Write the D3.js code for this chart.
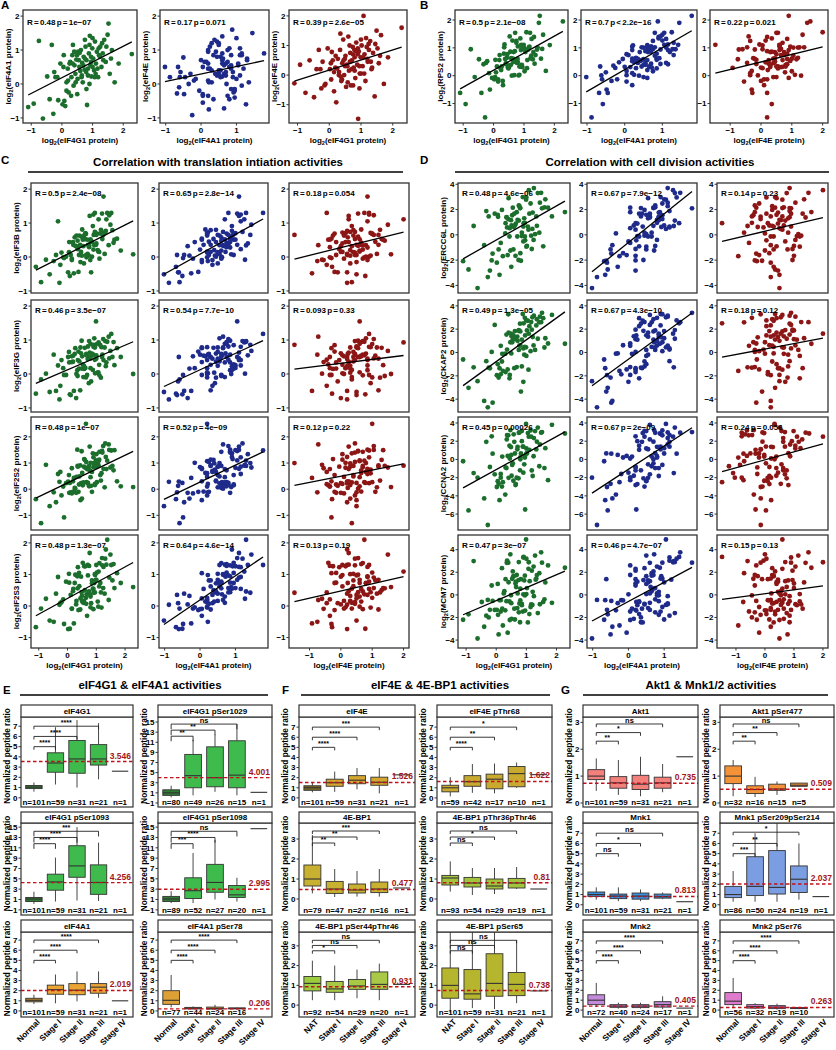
<!DOCTYPE html>
<html><head><meta charset="utf-8">
<script src="https://cdn.jsdelivr.net/npm/d3@7/dist/d3.min.js"></script>
<style>
body{margin:0;background:#fff;}
svg text{font-family:"Liberation Sans",Arial,Helvetica,sans-serif;font-weight:bold;fill:#000;}
</style></head><body>
<svg id="fig" width="836" height="1050"></svg>
<script>
// ================= sample-level log2 protein values (scatter panels) =================
const eIF4G1 = [-1.10,-0.92,-0.75,-0.62,-0.48,-0.33,-0.28,-0.21,-0.12,-0.05,0.02,0.06,0.11,0.15,0.19,0.22,0.27,0.31,0.34,0.38,0.41,0.44,0.47,0.51,0.53,0.57,0.60,0.62,0.66,0.68,0.71,0.74,0.77,0.80,0.82,0.85,0.88,0.91,0.93,0.96,0.99,1.02,1.05,1.08,1.11,1.14,1.18,1.21,1.25,1.29,1.33,1.38,1.43,1.49,1.56,1.63,1.72,1.85,2.28,-0.40,-0.15,0.08,0.25,0.36,0.49,0.64,0.75,0.90,1.00,1.16,1.31,1.52,0.45,0.58,0.79,0.95,1.07,0.30,0.70,1.24,
  0.55,0.85,1.20,0.15,0.40,1.00,0.65,1.35,-0.25,0.90,0.20,1.10,0.75,0.50,1.45,0.05,0.95,0.35,1.60,0.80];
const eIF4A1 = [-0.68,-0.58,1.27,-1.02,0.22,1.15,-0.88,0.20,-0.48,0.60,-0.60,0.85,-0.65,0.05,0.45,-0.25,0.65,0.20,0.85,-0.05,0.55,0.30,0.72,0.15,0.95,0.50,0.38,1.00,0.62,0.05,0.80,0.42,1.10,0.70,-0.62,0.25,0.90,1.42,0.55,0.22,1.05,0.75,0.40,1.25,0.60,0.95,0.20,0.85,1.10,0.50,0.90,1.30,0.65,1.45,0.30,1.00,0.05,0.60,0.88,-0.45,0.20,-0.50,0.60,1.15,0.85,0.20,0.75,0.00,1.35,0.45,1.20,1.78,0.05,0.92,0.35,0.65,0.20,-0.35,0.55,0.80,
  0.70,0.45,1.05,-0.20,0.95,0.50,0.25,0.70,0.35,1.15,0.10,0.30,1.30,-0.30,1.10,0.50,0.80,0.60,0.75,-0.15];
const eIF4E = [-0.28,0.35,-0.60,0.50,-0.75,0.85,0.20,0.45,-0.30,0.90,0.20,-0.15,0.50,-0.55,0.25,-0.92,0.55,0.10,0.85,-0.20,0.40,1.20,0.00,0.65,-0.40,0.30,1.30,0.15,0.75,-0.35,0.50,0.95,0.25,0.60,-0.10,1.10,0.35,-1.48,0.80,0.05,0.60,1.00,0.30,2.00,0.70,-0.20,0.95,0.45,0.85,1.15,0.20,0.75,-0.72,1.50,0.40,1.35,-0.30,0.60,1.60,0.20,-0.35,0.78,0.22,-0.05,0.55,1.00,-0.35,0.70,0.05,1.25,0.45,0.90,0.50,-0.25,0.85,0.30,0.60,0.00,0.20,1.05,
  0.35,0.80,0.55,0.10,-0.15,1.20,0.45,0.25,-0.45,0.90,0.65,0.05,0.70,0.30,1.05,0.40,-0.45,1.40,0.65,0.15];
const eIF4E_setA2 = [-0.28,0.35,-0.60,0.50,-0.75,0.85,0.20,0.45,-0.30,0.90,0.20,-0.15,0.50,-0.55,0.25,-0.92,0.55,0.10,0.85,-0.20,0.40,1.20,0.00,0.65,-0.40,0.30,1.30,0.15,0.75,-0.35,0.50,0.95,0.25,0.60,-0.10,1.10,0.35,null,0.80,0.05,0.60,1.00,0.30,null,0.70,-0.20,0.95,0.45,0.85,1.15,0.20,0.75,-0.72,1.50,0.40,1.35,-0.30,0.60,1.60,0.20,-0.35,0.78,0.22,-0.05,0.55,1.00,-0.35,0.70,0.05,1.25,0.45,0.90,0.50,-0.25,0.85,0.30,0.60,0.00,0.20,1.05,
  0.35,0.80,0.55,0.10,-0.15,1.20,0.45,0.25,-0.45,0.90,0.65,0.05,0.70,0.30,1.05,0.40,-0.45,1.40,0.65,0.15];
const RPS2 = [-0.62,-1.02,0.95,-0.05,0.59,0.41,-1.50,0.52,-0.50,-0.08,-0.13,0.57,0.33,-0.21,0.56,0.28,0.33,-0.34,0.79,0.60,0.45,0.64,0.29,0.31,1.41,0.39,0.00,1.26,0.85,0.02,1.54,0.53,0.46,1.05,0.01,0.03,1.34,1.11,0.39,1.09,1.11,0.16,0.85,1.56,0.56,0.94,1.04,0.62,1.32,0.59,1.39,0.74,0.94,1.90,0.61,1.47,0.17,1.10,1.95,-0.62,0.09,0.12,0.20,1.12,0.26,0.61,1.25,0.32,0.95,1.02,0.85,2.15,0.77,0.63,0.60,0.31,0.92,-0.19,0.88,0.72,
  0.86,0.33,1.54,-0.13,0.42,1.01,0.49,0.43,0.46,0.92,0.74,0.27,1.18,0.36,1.01,-0.05,1.02,1.02,0.96,0.48];
const eIF3B = [-0.29,-0.74,-0.08,-0.51,-0.12,1.05,-0.76,0.13,-0.03,0.01,-0.45,0.44,0.06,-0.09,0.44,-0.48,0.33,0.63,0.28,-0.44,0.63,0.36,0.15,0.81,0.51,-0.19,0.53,0.70,-0.01,0.51,0.36,0.04,1.21,0.52,-0.45,0.45,0.91,0.65,0.35,0.72,0.36,0.69,0.20,1.11,-0.05,0.69,0.71,0.53,1.78,0.09,0.77,1.30,0.35,0.95,0.79,0.51,0.54,0.19,0.08,0.06,-0.01,-0.56,0.58,0.23,0.60,0.68,0.29,0.22,0.40,0.80,0.74,1.30,-0.15,0.63,-0.09,0.74,0.16,0.32,0.09,0.65,
  0.32,0.01,1.28,-0.05,0.06,0.65,0.06,1.11,-0.23,1.25,0.36,0.15,0.34,0.04,1.23,0.14,1.30,0.48,0.42,0.44];
const eIF3G = [-0.58,-0.16,0.01,-0.53,0.57,0.25,-0.75,0.41,-0.03,-0.03,0.50,0.34,-0.62,0.35,0.36,-0.50,0.76,0.00,0.11,0.66,0.37,-0.48,0.61,0.52,0.28,0.24,0.77,0.18,0.55,-0.03,0.81,-0.27,0.63,0.89,-0.22,0.54,0.12,0.86,1.05,0.02,1.55,0.88,0.04,0.93,-0.04,0.85,0.79,0.57,0.41,0.78,0.23,0.95,1.10,0.68,0.50,0.26,0.76,0.50,0.00,-0.50,0.17,-0.60,0.59,0.41,0.98,-0.10,0.50,0.57,0.55,-0.11,0.97,1.18,0.78,0.15,0.45,0.78,0.05,-0.71,0.44,1.03,
  -0.09,0.60,0.50,0.52,0.16,0.45,0.59,0.34,-0.35,0.80,0.54,0.27,0.97,0.16,0.46,0.65,0.42,-0.06,0.94,0.17];
const eIF2S2 = [-0.38,-1.30,0.93,-0.65,-0.12,0.58,0.28,-0.24,-1.08,0.23,0.29,-0.14,-0.12,0.80,0.30,0.43,0.02,0.47,1.51,-0.10,0.49,0.91,0.23,0.62,0.15,0.86,1.12,0.82,0.27,0.77,0.24,0.75,1.63,0.46,0.13,-0.10,1.37,1.00,1.00,0.20,1.10,0.27,0.99,0.90,1.43,0.54,0.61,1.40,0.78,0.07,1.23,1.09,1.71,0.83,0.89,1.49,0.30,0.11,0.08,-0.50,0.10,0.24,0.05,0.86,1.45,2.50,0.11,0.84,1.34,0.33,1.75,1.48,-0.42,1.15,0.70,0.16,1.07,-0.14,0.22,1.65,
  0.26,0.66,1.46,-0.16,0.18,0.86,1.04,0.77,0.66,1.22,-0.09,1.13,0.89,-0.36,1.50,0.54,0.19,0.89,0.72,1.01];
const eIF2S3 = [-0.67,-0.08,0.23,-0.46,-0.50,0.92,0.04,0.12,-0.57,0.77,-0.73,0.74,0.35,-0.09,0.47,-0.55,0.99,0.16,0.94,-0.13,0.63,-0.11,0.93,0.14,1.37,0.16,0.50,1.26,0.37,-0.31,0.97,0.44,1.68,0.30,0.09,0.81,0.55,0.42,0.73,0.98,0.83,1.06,0.14,1.09,1.36,0.73,-0.05,1.29,1.24,0.39,1.79,2.10,0.19,1.63,0.81,0.57,1.04,0.73,0.60,0.39,0.21,-0.72,0.73,1.23,0.44,0.26,1.27,-0.10,1.30,0.43,1.50,1.30,0.24,1.26,0.35,1.01,-0.02,0.05,1.30,0.57,
  0.10,0.72,1.52,-0.08,1.05,0.83,0.07,1.31,0.09,0.54,0.54,0.62,0.46,0.32,0.90,1.02,0.43,0.56,1.33,-0.04];
const ERCC6L = [-2.08,-2.74,0.70,-4.21,null,1.88,-3.34,-2.83,-1.48,1.67,-2.20,1.43,-3.16,-0.64,1.97,-1.69,null,0.92,1.40,-1.60,2.90,-0.13,-1.24,0.74,1.55,-1.15,1.67,0.74,null,1.79,1.19,-1.99,2.27,2.12,-2.05,-0.10,2.99,0.92,1.31,-0.43,2.78,-0.88,0.65,3.53,null,2.48,-1.12,1.76,3.70,0.05,1.46,3.30,0.17,3.32,-0.91,2.81,2.15,1.46,1.80,-0.82,-2.02,-1.15,null,0.59,1.16,-1.66,2.33,-0.52,2.96,-0.07,null,2.10,0.53,0.62,2.12,-0.13,0.41,0.11,-0.13,-0.40,
  2.15,0.17,0.47,null,1.25,-0.94,0.89,0.71,1.46,0.65,null,1.67,1.13,-2.53,2.54,1.58,0.95,1.37,2.18,-1.45];
const CKAP2 = [-0.60,-3.03,-1.27,-2.46,null,-0.74,-4.70,-1.35,-4.30,2.36,-1.94,null,-1.35,0.57,-0.77,-1.58,null,-1.68,1.54,-1.45,1.70,-2.21,0.88,1.39,0.88,1.47,-1.34,1.84,null,-1.25,1.00,1.86,0.59,1.81,-3.35,1.10,3.30,2.50,-0.19,1.46,0.44,1.89,2.72,1.61,null,0.11,1.96,1.33,3.16,0.22,2.32,1.18,2.59,2.60,2.94,1.22,0.77,3.22,0.75,-4.15,0.05,-2.15,null,0.25,1.61,1.14,0.22,-2.51,2.75,2.61,null,3.40,-1.92,1.30,2.47,0.48,-1.47,-0.10,1.36,0.61,
  1.11,-1.19,3.02,-1.87,3.28,-0.29,null,2.85,-1.30,0.35,-0.11,2.26,1.92,-0.08,3.07,-1.00,2.97,null,0.43,0.62];
const CCNA2 = [-0.20,-5.60,-1.50,-2.00,null,1.93,-7.20,-0.83,0.63,-1.64,-3.03,null,-4.47,-2.00,-2.98,-2.50,null,-0.88,-0.95,0.38,-2.02,1.50,3.22,-1.79,-0.60,-2.34,1.93,0.65,null,-2.01,1.39,-2.07,2.97,0.01,0.66,2.00,1.41,null,-0.54,-5.50,3.90,0.68,2.90,2.50,null,3.19,-1.21,-1.82,2.35,3.11,1.10,3.50,-0.75,2.94,null,1.24,-2.28,3.80,2.85,-4.28,2.54,-2.68,null,2.67,1.36,-2.82,2.93,-1.45,0.63,2.50,null,3.00,0.10,2.76,-1.20,0.32,null,-3.86,1.12,0.35,
  -0.43,3.12,null,-1.60,2.65,1.20,-2.71,1.95,null,1.40,0.31,1.06,null,0.50,1.64,-2.39,0.20,2.20,-0.95,0.21];
const MCM7 = [-2.20,-1.72,2.99,-3.86,-0.63,-1.84,-0.45,-1.32,-0.53,-1.33,-1.32,-1.76,-0.47,-1.47,2.36,-2.71,0.32,1.39,-0.56,-3.34,1.12,-0.58,3.59,-2.12,1.43,1.65,-1.22,-2.18,0.70,1.76,0.13,1.31,-0.76,0.56,1.39,-0.91,-1.48,3.36,1.28,-1.39,4.90,0.60,-2.44,2.89,1.21,-1.07,2.14,0.27,-0.11,3.48,1.44,-1.61,1.92,3.77,-0.62,1.10,2.61,-0.70,2.40,-2.82,0.83,-3.50,0.13,3.03,-0.03,1.01,-1.54,0.05,3.20,-0.84,1.35,2.85,-2.22,1.66,-2.42,1.70,2.31,-1.37,-1.17,2.51,
  2.08,-0.79,-0.89,-0.47,2.85,0.07,1.17,1.75,-1.99,3.31,-1.22,-1.70,2.90,-0.73,-0.83,0.97,-0.05,2.84,-0.39,-0.49];

// correlation labels
const corA = ["R = 0.48 p = 1e\u221207","R = 0.17 p = 0.071","R = 0.39 p = 2.6e\u221205"];
const corB = ["R = 0.5 p = 2.1e\u221208","R = 0.7 p < 2.2e\u221216","R = 0.22 p = 0.021"];
const corC = [["R = 0.5 p = 2.4e\u221208","R = 0.65 p = 2.8e\u221214","R = 0.18 p = 0.054"],
              ["R = 0.46 p = 3.5e\u221207","R = 0.54 p = 7.7e\u221210","R = 0.093 p = 0.33"],
              ["R = 0.48 p = 1e\u221207","R = 0.52 p = 4e\u221209","R = 0.12 p = 0.22"],
              ["R = 0.48 p = 1.3e\u221207","R = 0.64 p = 4.6e\u221214","R = 0.13 p = 0.19"]];
const corD = [["R = 0.48 p = 4.6e\u221206","R = 0.67 p = 7.9e\u221212","R = 0.14 p = 0.23"],
              ["R = 0.49 p = 1.3e\u221205","R = 0.67 p = 4.3e\u221210","R = 0.18 p = 0.12"],
              ["R = 0.45 p = 0.00026","R = 0.67 p = 2e\u221209","R = 0.24 p = 0.056"],
              ["R = 0.47 p = 3e\u221207","R = 0.46 p = 4.7e\u221207","R = 0.15 p = 0.13"]];
const ticksSmall = [-1,0,1,2];
const ticksLarge = [-6,-4,-2,0,2,4];

// ================= box-plot panels (E, F, G) =================
const groupsN = ["Normal","Stage I","Stage II","Stage III","Stage IV"];
const groupsNAT = ["NAT","Stage I","Stage II","Stage III","Stage IV"];
const ticks0to7 = [0,1,2,3,4,5,6,7];
const ticksOdd = [-1,1,3,5,7,9,11,13,15];
const ticks0to3 = [0,1,2,3];
// [lower whisker, Q1, median, Q3, upper whisker] for Normal, Stage I, II, III; stage IV single value
const box_eIF4G1 = [[0.6,0.9,1.05,1.2,1.5],[1.3,2.5,3.4,4.4,6.9],[1.0,2.4,3.8,5.6,7.6],[1.8,3.2,3.8,5.2,7.3]];
const iv_eIF4G1 = 2.6, n_eIF4G1 = [101,59,31,21,1], ref_eIF4G1 = 3.546;
const sig_eIF4G1 = [[0,1,5,"****"],[0,2,6,"****"],[0,3,7,"****"]];
const box_pS1029 = [[0.1,0.5,1.0,1.6,2.4],[0.5,2.0,4.4,8.6,11.5],[1.2,2.2,4.0,10.1,12.5],[0.5,2.0,4.5,11.3,14.6]];
const iv_pS1029 = 1.1, n_pS1029 = [80,49,26,15,1], ref_pS1029 = 4.001;
const sig_pS1029 = [[0,1,12.2,"**"],[0,2,13.4,"**"],[0,3,14.6,"ns"]];
const box_pS1093 = [[0.15,0.6,1.1,1.4,2.5],[0.6,2.8,4.4,5.9,9.1],[0.8,5.3,7.5,11.4,15.0],[0.7,2.0,4.3,7.7,12.0]];
const iv_pS1093 = null, n_pS1093 = [101,59,31,21,1], ref_pS1093 = 4.256;
const sig_pS1093 = [[0,1,11.8,"****"],[0,2,13.0,"****"],[0,3,14.2,"***"]];
const box_pS1098 = [[0.3,0.6,1.1,1.6,2.6],[0.3,1.2,2.7,5.2,10.0],[1.0,2.4,4.3,7.8,12.5],[0.6,1.4,1.9,3.7,5.2]];
const iv_pS1098 = 14.7, n_pS1098 = [89,52,27,20,1], ref_pS1098 = 2.995;
const sig_pS1098 = [[0,1,11.8,"***"],[0,2,13.0,"****"],[0,3,14.2,"ns"]];
const box_eIF4A1 = [[0.68,0.9,1.05,1.25,1.6],[0.75,1.65,2.1,2.55,3.6],[0.95,1.6,2.05,2.7,3.9],[1.3,1.75,2.35,2.7,3.9]];
const iv_eIF4A1 = 1.0, n_eIF4A1 = [101,59,31,21,1], ref_eIF4A1 = 2.019;
const sig_eIF4A1 = [[0,1,5,"****"],[0,2,6,"****"],[0,3,7,"****"]];
const box_pS78 = [[0.35,0.65,1.05,2.0,3.55],[0.15,0.2,0.27,0.35,0.45],[0.1,0.18,0.25,0.38,0.6],[0.15,0.2,0.25,0.3,0.35]];
const iv_pS78 = null, n_pS78 = [77,44,24,16], ref_pS78 = 0.206;
const sig_pS78 = [[0,1,5,"****"],[0,2,6,"****"],[0,3,7,"****"]];

const box_eIF4E = [[0.55,0.75,1.0,1.2,1.5],[0.6,1.15,1.5,1.85,2.6],[0.85,1.4,1.75,2.2,2.95],[0.45,1.25,1.55,2.05,2.95]];
const iv_eIF4E = 2.28, n_eIF4E = [101,59,31,21,1], ref_eIF4E = 1.526;
const sig_eIF4E = [[0,1,5,"****"],[0,2,6,"****"],[0,3,7,"***"]];
const box_pT68 = [[0.15,0.6,1.0,1.25,2.05],[0.5,1.15,1.6,2.2,3.35],[0.45,0.9,1.85,2.35,3.4],[1.0,1.1,2.4,3.1,3.5]];
const iv_pT68 = 2.3, n_pT68 = [59,42,17,10,1], ref_pT68 = 1.622;
const sig_pT68 = [[0,1,5,"****"],[0,2,6,"**"],[0,3,7,"*"]];
const box_BP1 = [[0.28,0.65,1.0,1.7,3.2],[0.1,0.28,0.5,0.88,1.5],[0.12,0.3,0.45,0.75,1.4],[0.12,0.32,0.5,0.85,1.5]];
const iv_BP1 = 0.55, n_BP1 = [79,47,27,16,1], ref_BP1 = 0.477;
const sig_BP1 = [[0,1,2.8,"**"],[0,2,3.1,"**"],[0,3,3.4,"***"]];
const box_pT36 = [[0.37,0.7,1.05,1.18,1.88],[0.2,0.6,0.8,1.08,1.55],[0.25,0.5,0.65,1.0,1.55],[0.5,0.55,0.8,1.03,1.6]];
const iv_pT36 = 0.5, n_pT36 = [93,54,29,19,1], ref_pT36 = 0.81;
const sig_pT36 = [[0,1,2.8,"ns"],[0,2,3.1,"*"],[0,3,3.4,"ns"]];
const box_pS44 = [[0.25,0.72,1.1,1.45,2.25],[0.25,0.65,0.82,1.2,2.0],[0.35,0.8,0.97,1.3,1.8],[0.25,0.8,1.05,1.68,2.1]];
const iv_pS44 = 1.05, n_pS44 = [92,54,29,20,1], ref_pS44 = 0.931;
const sig_pS44 = [[0,1,2.75,"*"],[0,2,3.02,"ns"],[0,3,3.28,"ns"]];
const box_pS65 = [[-0.4,0.35,1.0,1.88,4.2],[-0.15,0.3,0.57,1.8,4.2],[-0.2,0.45,1.1,2.6,4.2],[0.1,0.48,1.05,1.65,3.3]];
const iv_pS65 = 0.72, n_pS65 = [101,59,31,21,1], ref_pS65 = 0.738;
const sig_pS65 = [[0,1,2.75,"ns"],[0,2,3.02,"ns"],[0,3,3.28,"ns"]];

const box_Akt1 = [[0.45,0.87,1.0,1.24,1.66],[0.3,0.55,0.75,0.98,1.6],[0.25,0.5,0.7,1.03,1.72],[0.4,0.55,0.75,0.96,1.45]];
const iv_Akt1 = 1.72, n_Akt1 = [101,59,31,21,1], ref_Akt1 = 0.735;
const sig_Akt1 = [[0,1,2.3,"**"],[0,2,2.62,"*"],[0,3,2.94,"ns"]];
const box_pS477 = [[0.25,0.72,1.0,1.38,1.6],[0.22,0.35,0.5,0.64,0.97],[0.3,0.47,0.52,0.7,0.8],[0.6,0.62,0.66,0.74,0.74]];
const iv_pS477 = null, n_pS477 = [32,16,15,5], ref_pS477 = 0.509;
const sig_pS477 = [[0,1,2.3,"**"],[0,2,2.62,"**"],[0,3,2.94,"ns"]];
const box_Mnk1 = [[0.5,0.82,1.0,1.25,1.7],[0.35,0.6,0.85,1.05,1.7],[0.35,0.55,0.85,1.15,1.5],[0.55,0.65,0.8,1.05,1.2]];
const iv_Mnk1 = 0.3, n_Mnk1 = [101,59,31,21,1], ref_Mnk1 = 0.813;
const sig_Mnk1 = [[0,1,5,"ns"],[0,2,6,"*"],[0,3,7,"ns"]];
const box_pS209 = [[0.3,0.7,1.0,1.8,3.3],[0.3,0.9,1.8,4.7,7.0],[0.3,1.05,1.7,5.3,8.5],[0.5,1.2,2.5,3.8,6.0]];
const iv_pS209 = 0.8, n_pS209 = [86,50,24,19,1], ref_pS209 = 2.037;
const sig_pS209 = [[0,1,5,"***"],[0,2,6,"**"],[0,3,7.1,"*"]];
const box_Mnk2 = [[0.3,0.55,1.0,1.55,2.75],[0.15,0.28,0.4,0.55,0.75],[0.15,0.25,0.4,0.55,0.75],[0.1,0.3,0.55,0.85,1.4]];
const iv_Mnk2 = 0.2, n_Mnk2 = [72,40,24,17,1], ref_Mnk2 = 0.405;
const sig_Mnk2 = [[0,1,5,"****"],[0,2,6,"****"],[0,3,7,"****"]];
const box_pS76 = [[0.2,0.55,0.9,1.77,3.25],[0.1,0.2,0.35,0.55,0.7],[0.05,0.15,0.3,0.45,0.65],[0.1,0.15,0.2,0.25,0.3]];
const iv_pS76 = null, n_pS76 = [56,32,19,10], ref_pS76 = 0.263;
const sig_pS76 = [[0,1,5,"****"],[0,2,6,"****"],[0,3,7,"****"]];

// ================= drawing =================
const svg = d3.select("#fig");
svg.append("rect").attr("width",836).attr("height",1050).attr("fill","#fff");
let clipN = 0;
const COL = {g:"#1c6e2c", b:"#1f2b8a", r:"#8c1616"};
const fmt = d => d < 0 ? "\u2212" + Math.abs(d) : String(d);

function logTitle(t, name){
  t.append("tspan").text("log");
  t.append("tspan").attr("font-size",5.6).attr("dy",2).text("2");
  t.append("tspan").attr("dy",-2).text("(" + name + " protein)");
}

function scatter(s){
  const [x0,y0,x1,y1] = s.box;
  const g = svg.append("g");
  const pts = [];
  s.xs.forEach((v,i)=>{ const w = s.ys[i]; if(v!=null && w!=null) pts.push([v,w]); });
  const ex = d3.extent(pts, p=>p[0]); const pad = (ex[1]-ex[0])*0.05;
  const x = d3.scaleLinear().domain([ex[0]-pad, ex[1]+pad]).range([x0,x1]);
  const y = d3.scaleLinear().domain(s.yDom).range([y1,y0]);
  const id = "sc" + (clipN++);
  svg.append("clipPath").attr("id",id).append("rect").attr("x",x0).attr("y",y0).attr("width",x1-x0).attr("height",y1-y0);
  const inner = g.append("g").attr("clip-path",`url(#${id})`);
  inner.selectAll("circle").data(pts).join("circle")
    .attr("cx",p=>x(p[0])).attr("cy",p=>y(p[1])).attr("r",2.4).attr("fill",COL[s.c]);
  const mx = d3.mean(pts,p=>p[0]), my = d3.mean(pts,p=>p[1]);
  const b = d3.sum(pts,p=>(p[0]-mx)*(p[1]-my)) / d3.sum(pts,p=>(p[0]-mx)**2);
  const a = my - b*mx;
  inner.append("line").attr("x1",x(ex[0])).attr("y1",y(a+b*ex[0])).attr("x2",x(ex[1])).attr("y2",y(a+b*ex[1]))
    .attr("stroke","#000").attr("stroke-width",1.3);
  g.append("rect").attr("x",x0).attr("y",y0).attr("width",x1-x0).attr("height",y1-y0)
    .attr("fill","none").attr("stroke","#333").attr("stroke-width",1.3);
  g.append("text").attr("x",x0+4).attr("y",y0+(s.labOff||13)).attr("font-size",8).attr("word-spacing",-1).text(s.cor);
  s.yTicks.filter(t=>t>=s.yDom[0] && t<=s.yDom[1]).forEach(t=>{
    g.append("line").attr("x1",x0-2.5).attr("x2",x0).attr("y1",y(t)).attr("y2",y(t)).attr("stroke","#333");
    g.append("text").attr("x",x0-3.5).attr("y",y(t)).attr("dy","0.35em").attr("text-anchor","end").attr("font-size",8).text(fmt(t));
  });
  if(s.xT){
    s.xTicks.filter(t=>t>=x.domain()[0] && t<=x.domain()[1]).forEach(t=>{
      g.append("line").attr("x1",x(t)).attr("x2",x(t)).attr("y1",y1).attr("y2",y1+2.5).attr("stroke","#333");
      g.append("text").attr("x",x(t)).attr("y",y1+10).attr("text-anchor","middle").attr("font-size",8).text(fmt(t));
    });
    logTitle(g.append("text").attr("x",(x0+x1)/2).attr("y",y1+20).attr("text-anchor","middle").attr("font-size",8), s.xT);
  }
  if(s.yT){
    logTitle(g.append("text").attr("transform",`translate(${x0-15},${(y0+y1)/2}) rotate(-90)`)
      .attr("text-anchor","middle").attr("dy","0.35em").attr("font-size",8), s.yT);
  }
}

// A and B
const boxA = [[23,10,137,123],[160,10,269,123],[289,10,407,123]];
const boxB = [[455,10,568,123],[581,10,697,123],[710,10,828,123]];
scatter({box:boxA[0], xs:eIF4G1, ys:eIF4A1, c:"g", cor:corA[0], yDom:[-1.15,2.18], yTicks:ticksSmall, xTicks:ticksSmall, xT:"eIF4G1", yT:"eIF4A1", labOff:15});
scatter({box:boxA[1], xs:eIF4A1, ys:eIF4E_setA2, c:"b", cor:corA[1], yDom:[-1.15,2.18], yTicks:ticksSmall, xTicks:ticksSmall, xT:"eIF4A1", yT:"eIF4E", labOff:15});
scatter({box:boxA[2], xs:eIF4G1, ys:eIF4E, c:"r", cor:corA[2], yDom:[-1.62,2.2], yTicks:ticksSmall, xTicks:ticksSmall, xT:"eIF4G1", yT:"eIF4E", labOff:15});
scatter({box:boxB[0], xs:eIF4G1, ys:RPS2, c:"g", cor:corB[0], yDom:[-1.7,2.36], yTicks:ticksSmall, xTicks:ticksSmall, xT:"eIF4G1", yT:"RPS2", labOff:15});
scatter({box:boxB[1], xs:eIF4A1, ys:RPS2, c:"b", cor:corB[1], yDom:[-1.7,2.36], yTicks:ticksSmall, xTicks:ticksSmall, xT:"eIF4A1", labOff:15});
scatter({box:boxB[2], xs:eIF4E, ys:RPS2, c:"r", cor:corB[2], yDom:[-1.7,2.36], yTicks:ticksSmall, xTicks:ticksSmall, xT:"eIF4E", labOff:15});

// C and D grids
const gridRows = [[183,293],[300,412],[417,530],[535,648]];
const colsC = [[31,138],[159,268],[289,409]];
const colsD = [[458,570],[587,697],[717,828]];
const xSets = [eIF4G1, eIF4A1, eIF4E];
const xNames = ["eIF4G1","eIF4A1","eIF4E"];
const colorKeys = ["g","b","r"];
const rowsC = [eIF3B, eIF3G, eIF2S2, eIF2S3], namesC = ["eIF3B","eIF3G","eIF2S2","eIF2S3"];
const rowsD = [ERCC6L, CKAP2, CCNA2, MCM7], namesD = ["ERCC6L","CKAP2","CCNA2","MCM7"];
const yDomC = [[-1.06,2.18],[-1.12,2.18],[-1.56,2.76],[-1.33,2.25]];
const yDomD = [[-4.6,4.1],[-5.1,4.5],[-7.75,4.66],[-4.7,5.3]];
for(let r=0;r<4;r++){
  for(let c=0;c<3;c++){
    scatter({box:[colsC[c][0],gridRows[r][0],colsC[c][1],gridRows[r][1]], xs:xSets[c], ys:rowsC[r], c:colorKeys[c],
      cor:corC[r][c], yDom:yDomC[r], yTicks:ticksSmall, xTicks:ticksSmall, xT: r===3 ? xNames[c] : null, yT: c===0 ? namesC[r] : null});
    scatter({box:[colsD[c][0],gridRows[r][0],colsD[c][1],gridRows[r][1]], xs:xSets[c], ys:rowsD[r], c:colorKeys[c],
      cor:corD[r][c], yDom:yDomD[r], yTicks:ticksLarge, xTicks:ticksSmall, xT: r===3 ? xNames[c] : null, yT: c===0 ? namesD[r] : null});
  }
}

// box plots
function boxplot(p){
  const [x0,x1] = p.xr, [sTop,pTop,pBot] = p.yr;
  const g = svg.append("g");
  const y = d3.scaleLinear().domain(p.yDom).range([pBot,pTop]);
  const x = d3.scalePoint().domain(d3.range(5)).range([x0,x1]).padding(0.6);
  const bw = x.step()*0.76;
  const id = "bp" + (clipN++);
  svg.append("clipPath").attr("id",id).append("rect").attr("x",x0).attr("y",pTop).attr("width",x1-x0).attr("height",pBot-pTop);
  const inner = g.append("g").attr("clip-path",`url(#${id})`);
  p.box.forEach((b,i)=>{
    const cx = x(i);
    const fill = i===0 ? p.colors[0] : p.colors[1];
    inner.append("line").attr("x1",cx).attr("x2",cx).attr("y1",y(b[0])).attr("y2",y(b[1])).attr("stroke","#333").attr("stroke-width",0.9);
    inner.append("line").attr("x1",cx).attr("x2",cx).attr("y1",y(b[3])).attr("y2",y(b[4])).attr("stroke","#333").attr("stroke-width",0.9);
    inner.append("rect").attr("x",cx-bw/2).attr("width",bw).attr("y",y(b[3])).attr("height",Math.max(0.8,y(b[1])-y(b[3])))
      .attr("fill",fill).attr("stroke","#333").attr("stroke-width",0.9);
    inner.append("line").attr("x1",cx-bw/2).attr("x2",cx+bw/2).attr("y1",y(b[2])).attr("y2",y(b[2])).attr("stroke","#333").attr("stroke-width",1.1);
  });
  if(p.iv!=null){
    inner.append("line").attr("x1",x(4)-bw/2).attr("x2",x(4)+bw/2).attr("y1",y(p.iv)).attr("y2",y(p.iv)).attr("stroke","#333").attr("stroke-width",1.1);
  }
  inner.append("line").attr("x1",x0).attr("x2",x1).attr("y1",y(p.ref)).attr("y2",y(p.ref))
    .attr("stroke","#c0121c").attr("stroke-width",1.4).attr("stroke-dasharray","3.5,2.5");
  g.append("text").attr("x",x1-2).attr("y",y(p.ref)-3).attr("text-anchor","end").attr("font-size",8.5)
    .style("fill","#a3161c").text(String(p.ref));
  p.sig.forEach(s=>{
    const xa = x(s[0]), xb = x(s[1]), yy = y(s[2]), yt = y(s[2]-p.tip);
    inner.append("path").attr("d",`M${xa},${yt}L${xa},${yy}L${xb},${yy}L${xb},${yt}`).attr("fill","none").attr("stroke","#222").attr("stroke-width",0.9);
    inner.append("text").attr("x",(xa+xb)/2).attr("y",yy-1.2).attr("text-anchor","middle").attr("font-size",s[3]==="ns"?7.5:7).text(s[3]);
  });
  p.n.forEach((v,i)=>{
    g.append("text").attr("x",x(i)).attr("y",pBot-2.5).attr("text-anchor","middle").attr("font-size",8).text("n=" + v);
  });
  g.append("rect").attr("x",x0).attr("y",pTop).attr("width",x1-x0).attr("height",pBot-pTop).attr("fill","none").attr("stroke","#333").attr("stroke-width",1.2);
  g.append("rect").attr("x",x0).attr("y",sTop).attr("width",x1-x0).attr("height",pTop-sTop).attr("fill","#fff").attr("stroke","#333").attr("stroke-width",1.2);
  g.append("text").attr("x",(x0+x1)/2).attr("y",pTop-3).attr("text-anchor","middle").attr("font-size",8).text(p.title);
  p.ticks.filter(t=>t>=p.yDom[0] && t<=p.yDom[1]).forEach(t=>{
    g.append("line").attr("x1",x0-2.5).attr("x2",x0).attr("y1",y(t)).attr("y2",y(t)).attr("stroke","#333");
    g.append("text").attr("x",x0-3.5).attr("y",y(t)).attr("dy","0.35em").attr("text-anchor","end").attr("font-size",8).text(fmt(t));
  });
  g.append("text").attr("transform",`translate(${x0-14},${(sTop+pBot)/2}) rotate(-90)`).attr("text-anchor","middle")
    .attr("dy","0.35em").attr("font-size",8.2).text("Normalized peptide ratio");
  if(p.xlab){
    p.xlab.forEach((lab,i)=>{
      g.append("text").attr("transform",`translate(${x(i)+3},${pBot+2}) rotate(-45)`).attr("text-anchor","end")
        .attr("dy","0.6em").attr("font-size",8.3).text(lab);
    });
  }
}
const colE = [[21,133],[158,272]], colF = [[299,415],[437,552]], colG = [[583,698],[720,834]];
const rowBP = [[705,717,807],[812,823,915],[920,932,1017]];
const bp = (col,row,title,box,iv,n,ref,sig,yDom,ticks,tip,colors,xlab)=>boxplot({xr:col,yr:row,title,box,iv,n,ref,sig,yDom,ticks,tip,colors,xlab});
bp(colE[0],rowBP[0],"eIF4G1",box_eIF4G1,iv_eIF4G1,n_eIF4G1,ref_eIF4G1,sig_eIF4G1,[-0.9,7.9],ticks0to7,0.3,["#2f7a33","#3fbb4d"]);
bp(colE[1],rowBP[0],"eIF4G1 pSer1029",box_pS1029,iv_pS1029,n_pS1029,ref_pS1029,sig_pS1029,[-1.8,16],ticksOdd,1.0,["#2f7a33","#3fbb4d"]);
bp(colE[0],rowBP[1],"eIF4G1 pSer1093",box_pS1093,iv_pS1093,n_pS1093,ref_pS1093,sig_pS1093,[-2,15.8],ticksOdd,1.0,["#2f7a33","#3fbb4d"]);
bp(colE[1],rowBP[1],"eIF4G1 pSer1098",box_pS1098,iv_pS1098,n_pS1098,ref_pS1098,sig_pS1098,[-2,15.8],ticksOdd,1.0,["#2f7a33","#3fbb4d"]);
bp(colE[0],rowBP[2],"eIF4A1",box_eIF4A1,iv_eIF4A1,n_eIF4A1,ref_eIF4A1,sig_eIF4A1,[-0.6,7.8],ticks0to7,0.3,["#b9852a","#eba534"],groupsN);
bp(colE[1],rowBP[2],"eIF4A1 pSer78",box_pS78,iv_pS78,n_pS78,ref_pS78,sig_pS78,[-0.6,7.8],ticks0to7,0.3,["#dca035","#dca035"],groupsN);
bp(colF[0],rowBP[0],"eIF4E",box_eIF4E,iv_eIF4E,n_eIF4E,ref_eIF4E,sig_eIF4E,[-0.9,8.0],ticks0to7,0.3,["#7c6a22","#d4a62e"]);
bp(colF[1],rowBP[0],"eIF4E pThr68",box_pT68,iv_pT68,n_pT68,ref_pT68,sig_pT68,[-0.9,8.0],ticks0to7,0.3,["#c9aa2e","#c9aa2e"]);
bp(colF[0],rowBP[1],"4E-BP1",box_BP1,iv_BP1,n_BP1,ref_BP1,sig_BP1,[-0.8,3.8],ticks0to3,0.15,["#c8b030","#c8b030"]);
bp(colF[1],rowBP[1],"4E-BP1 pThr36pThr46",box_pT36,iv_pT36,n_pT36,ref_pT36,sig_pT36,[-0.8,3.8],ticks0to3,0.15,["#a2c43c","#a2c43c"]);
bp(colF[0],rowBP[2],"4E-BP1 pSer44pThr46",box_pS44,iv_pS44,n_pS44,ref_pS44,sig_pS44,[-0.6,3.7],ticks0to3,0.15,["#9ccb3e","#a8c846"],groupsNAT);
bp(colF[1],rowBP[2],"4E-BP1 pSer65",box_pS65,iv_pS65,n_pS65,ref_pS65,sig_pS65,[-0.6,3.7],ticks0to3,0.15,["#b6b52e","#b6b52e"],groupsNAT);
bp(colG[0],rowBP[0],"Akt1",box_Akt1,iv_Akt1,n_Akt1,ref_Akt1,sig_Akt1,[-0.15,3.2],ticks0to3,0.12,["#f3807b","#f3807b"]);
bp(colG[1],rowBP[0],"Akt1 pSer477",box_pS477,iv_pS477,n_pS477,ref_pS477,sig_pS477,[-0.15,3.2],ticks0to3,0.12,["#f49238","#f49238"]);
bp(colG[0],rowBP[1],"Mnk1",box_Mnk1,iv_Mnk1,n_Mnk1,ref_Mnk1,sig_Mnk1,[-1.0,8.0],ticks0to7,0.3,["#3b8fdc","#3b8fdc"]);
bp(colG[1],rowBP[1],"Mnk1 pSer209pSer214",box_pS209,iv_pS209,n_pS209,ref_pS209,sig_pS209,[-1.0,8.0],ticks0to7,0.3,["#7b9de2","#7b9de2"]);
bp(colG[0],rowBP[2],"Mnk2",box_Mnk2,iv_Mnk2,n_Mnk2,ref_Mnk2,sig_Mnk2,[-0.7,7.9],ticks0to7,0.3,["#c389da","#c389da"],groupsN);
bp(colG[1],rowBP[2],"Mnk2 pSer76",box_pS76,iv_pS76,n_pS76,ref_pS76,sig_pS76,[-0.7,7.9],ticks0to7,0.3,["#de7bcc","#de7bcc"],groupsN);

// section titles, rules and letters
function section(letter, lx, ly, title, tx, ty, rx0, rx1, ry){
  svg.append("text").attr("x",lx).attr("y",ly).attr("font-size",11.5).text(letter);
  if(title){
    svg.append("text").attr("x",tx).attr("y",ty).attr("text-anchor","middle").attr("font-size",11.5).text(title);
    svg.append("line").attr("x1",rx0).attr("x2",rx1).attr("y1",ry).attr("y2",ry).attr("stroke","#000").attr("stroke-width",1.3);
  }
}
section("A",1,9);
section("B",420,9);
section("C",1,164,"Correlation with translation intiation activities",218,166,28,403,172);
section("D",420,164,"Correlation with cell division activities",650,166,455,829,172);
section("E",3,694,"eIF4G1 & eIF4A1 activities",150,689,20,268,695);
section("F",282,694,"eIF4E & 4E-BP1 activities",440,689,301,550,695);
section("G",561,694,"Akt1 & Mnk1/2 activities",711,689,583,828,695);
</script>
</body></html>
